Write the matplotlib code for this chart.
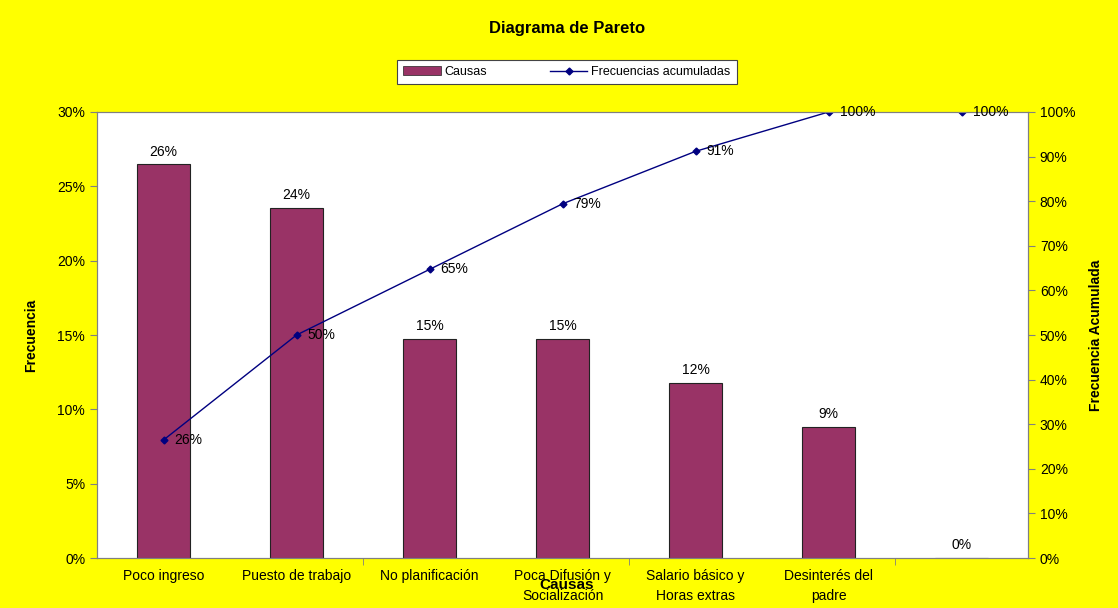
import matplotlib.pyplot as plt
from matplotlib.ticker import PercentFormatter, FixedLocator
from matplotlib.patches import Patch
from matplotlib.lines import Line2D

plt.rcParams['font.family'] = ['Liberation Sans', 'DejaVu Sans']

# datos
causas = ['Poco ingreso', 'Puesto de trabajo', 'No planificación',
          'Poca Difusión y\nSocialización', 'Salario básico y\nHoras extras',
          'Desinterés del\npadre', '']
frecuencia = [9/34, 8/34, 5/34, 5/34, 4/34, 3/34, 0.0]
acumulada = [9/34, 17/34, 22/34, 27/34, 31/34, 1.0, 1.0]

barra_color = '#993366'
linea_color = '#000080'

fig = plt.figure(figsize=(11.18, 6.08), dpi=100, facecolor='#FFFF00')
ax = fig.add_axes([0.0868, 0.0822, 0.8327, 0.7336])
ax.set_facecolor('white')

x = list(range(len(causas)))
ax.bar(x, frecuencia, width=0.4, color=barra_color, edgecolor='#222222', linewidth=0.8)
ax.set_xlim(-0.5, len(causas) - 0.5)
ax.set_ylim(0, 0.30)
ax.yaxis.set_major_locator(FixedLocator([0, .05, .10, .15, .20, .25, .30]))
ax.yaxis.set_major_formatter(PercentFormatter(1.0, decimals=0))
ax.set_xticks(x)
ax.set_xticklabels(causas, fontsize=10, linespacing=1.5)
ax.tick_params(axis='x', length=0, pad=8)
ax.set_xticks([1.5, 3.5, 5.5], minor=True)
ax.tick_params(axis='x', which='minor', length=5, color='#808080')
ax.tick_params(axis='y', labelsize=10, length=5, color='#808080')
for s in ax.spines.values():
    s.set_color('#808080')
ax.set_ylabel('Frecuencia', fontsize=10, fontweight='bold', labelpad=14)

for xi, v in zip(x, frecuencia):
    ax.text(xi, v + 0.004, f'{round(v*100):.0f}%', ha='center', va='bottom', fontsize=10)

ax2 = ax.twinx()
ax2.plot(x, acumulada, color=linea_color, linewidth=1, marker='D', markersize=3.5)
ax2.set_ylim(0, 1.0)
ax2.yaxis.set_major_locator(FixedLocator([i/10 for i in range(11)]))
ax2.yaxis.set_major_formatter(PercentFormatter(1.0, decimals=0))
ax2.tick_params(axis='y', labelsize=10, length=5, color='#808080')
for s in ax2.spines.values():
    s.set_color('#808080')
ax2.set_ylabel('Frecuencia Acumulada', fontsize=10, fontweight='bold', labelpad=10)

for xi, v in zip(x, acumulada):
    ax2.annotate(f'{round(v*100):.0f}%', (xi, v), xytext=(8, 0), textcoords='offset points',
                 ha='left', va='center', fontsize=10, annotation_clip=False)

fig.text(0.507, 1 - 28/608, 'Diagrama de Pareto', ha='center', va='center',
         fontsize=12, fontweight='bold')
fig.text(0.507, 1 - 585/608, 'Causas', ha='center', va='center',
         fontsize=11, fontweight='bold')

handles = [Patch(facecolor=barra_color, edgecolor='#222222', linewidth=0.5),
           Line2D([], [], color=linea_color, marker='D', markersize=3.5, linewidth=1)]
leg = fig.legend(handles, ['Causas', 'Frecuencias acumuladas'], loc='center',
                 bbox_to_anchor=(0.507, 1 - 72/608), ncol=2, fontsize=9,
                 frameon=True, fancybox=False, framealpha=1, edgecolor='#444444',
                 handlelength=3.0, handletextpad=0.3, columnspacing=5.0,
                 borderpad=0.5, borderaxespad=0)
leg.get_frame().set_linewidth(0.8)
# ensanchar la caja de la leyenda como en el original
leg._legend_box.align = 'center'
for t in leg.get_texts():
    t.set_fontsize(9)

fig.savefig('out.png', dpi=100, facecolor=fig.get_facecolor())
